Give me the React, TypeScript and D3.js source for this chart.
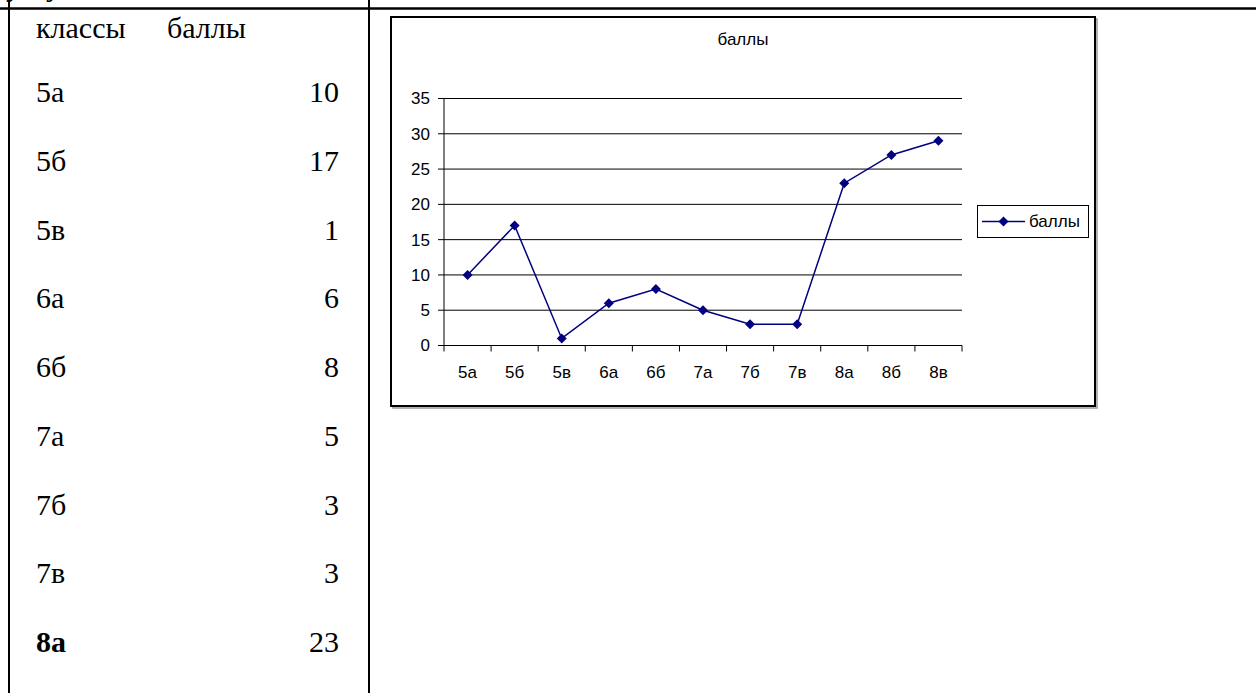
import React from "react";
import * as d3 from "d3";

const categories = ["5а", "5б", "5в", "6а", "6б", "7а", "7б", "7в", "8а", "8б", "8в"];
const values = [10, 17, 1, 6, 8, 5, 3, 3, 23, 27, 29];
const tableClasses = ["5а", "5б", "5в", "6а", "6б", "7а", "7б", "7в", "8а"];
const tableValues = [10, 17, 1, 6, 8, 5, 3, 3, 23];
const yTicks = [0, 5, 10, 15, 20, 25, 30, 35];
const seriesName = "баллы";
const headerCols = ["классы", "баллы"];

const W = 1256;
const H = 693;
const NAVY = "#000080";
const SANS = "'Liberation Sans', Arial, sans-serif";
const SERIF = "'Liberation Serif', 'Times New Roman', serif";

export default function App() {
  const x = d3.scaleBand<string>().domain(categories).range([444, 962]);
  const y = d3.scaleLinear().domain([0, 35]).range([345.5, 98.5]);
  const rowY = d3.scaleLinear().domain([0, tableClasses.length - 1]).range([102, 652]);
  const line = d3
    .line<number>()
    .x((_, i) => (x(categories[i]) as number) + x.bandwidth() / 2)
    .y((d) => y(d));
  const diamond = (cx: number, cy: number, r: number) =>
    `M${cx},${cy - r}L${cx + r},${cy}L${cx},${cy + r}L${cx - r},${cy}Z`;
  const boundaries = categories.map((c) => x(c) as number).concat([962]);

  return (
    <svg
      width={W}
      height={H}
      style={{ position: "absolute", left: 0, top: 0, background: "#fff" }}
    >
      <rect x={0} y={0} width={W} height={H} fill="#fff" />
      {/* cut-off text at top */}
      <text x={6} y={-4} fontFamily={SERIF} fontSize={30} fill="#000">у</text>
      <text x={46} y={-4} fontFamily={SERIF} fontSize={30} fill="#000">у</text>
      {/* table borders */}
      <line x1={0} x2={1256} y1={8.5} y2={8.5} stroke="#000" strokeWidth={2.5} />
      <line x1={9} x2={9} y1={0} y2={H} stroke="#000" strokeWidth={2} />
      <line x1={369} x2={369} y1={0} y2={H} stroke="#000" strokeWidth={2} />

      {/* table text */}
      <text x={36} y={38} fontFamily={SERIF} fontSize={30} fill="#000">{headerCols[0]}</text>
      <text x={167} y={38} fontFamily={SERIF} fontSize={30} fill="#000">{headerCols[1]}</text>
      {tableClasses.map((c, i) => (
        <g key={c}>
          <text
            x={36}
            y={rowY(i)}
            fontFamily={SERIF}
            fontSize={30}
            fontWeight={i === tableClasses.length - 1 ? "bold" : "normal"}
            fill="#000"
          >
            {c}
          </text>
          <text x={339} y={rowY(i)} textAnchor="end" fontFamily={SERIF} fontSize={30} fill="#000">
            {tableValues[i]}
          </text>
        </g>
      ))}

      {/* chart box with shadow */}
      <rect x={393} y={19} width={704} height={389} fill="none" stroke="#999" strokeWidth={1.5} />
      <rect x={391} y={17} width={704} height={389} fill="#fff" stroke="#000" strokeWidth={2} />
      <text x={743} y={45} textAnchor="middle" fontFamily={SANS} fontSize={17} fill="#000">
        {seriesName}
      </text>

      {/* gridlines */}
      {yTicks.map((t) => (
        <g key={t}>
          <line x1={438} x2={962} y1={y(t)} y2={y(t)} stroke="#000" strokeWidth={1} />
          <text
            x={430}
            y={y(t)}
            dy="0.35em"
            textAnchor="end"
            fontFamily={SANS}
            fontSize={17}
            fill="#000"
          >
            {t}
          </text>
        </g>
      ))}
      <line x1={444} x2={444} y1={y(35)} y2={y(0)} stroke="#000" strokeWidth={1} />
      {boundaries.map((b, i) => (
        <line key={i} x1={b} x2={b} y1={y(0)} y2={y(0) + 6} stroke="#000" strokeWidth={1} />
      ))}
      {categories.map((c) => (
        <text
          key={c}
          x={(x(c) as number) + x.bandwidth() / 2}
          y={378}
          textAnchor="middle"
          fontFamily={SANS}
          fontSize={17}
          fill="#000"
        >
          {c}
        </text>
      ))}

      {/* series */}
      <path d={line(values) || ""} fill="none" stroke={NAVY} strokeWidth={1.5} />
      {values.map((v, i) => (
        <path
          key={i}
          d={diamond((x(categories[i]) as number) + x.bandwidth() / 2, y(v), 5)}
          fill={NAVY}
        />
      ))}

      {/* legend */}
      <rect x={977.5} y={205.5} width={111} height={32} fill="#fff" stroke="#000" strokeWidth={1} />
      <line x1={982} x2={1025} y1={221.5} y2={221.5} stroke={NAVY} strokeWidth={1.5} />
      <path d={diamond(1003.5, 221.5, 5)} fill={NAVY} />
      <text x={1029} y={221.5} dy="0.35em" fontFamily={SANS} fontSize={17} fill="#000">
        {seriesName}
      </text>
    </svg>
  );
}
